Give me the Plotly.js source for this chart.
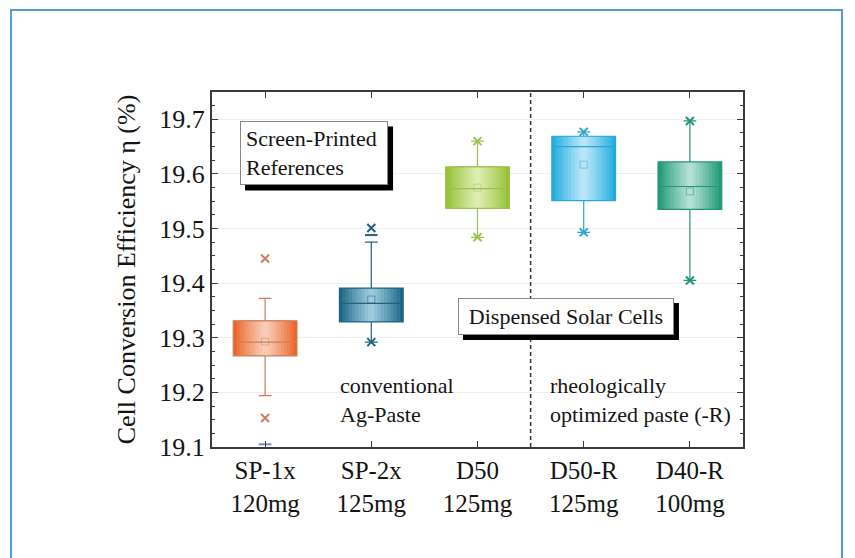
<!DOCTYPE html>
<html><head><meta charset="utf-8">
<script src="https://cdn.plot.ly/plotly-3.0.1.min.js"></script>
<style>
html,body{margin:0;padding:0;background:#fff;}
#wrap{position:relative;width:855px;height:558px;overflow:hidden;}
#frame{position:absolute;left:10px;top:9px;width:829px;height:600px;border:2px solid #4f9be0;border-bottom:none;pointer-events:none;}
#chart{position:absolute;left:0;top:0;width:855px;height:558px;}
</style></head>
<body><div id="wrap"><div id="chart"></div><div id="frame"></div></div>
<script>
// ---- data ----
const groupNames = ["SP-1x", "SP-2x", "D50", "D50-R", "D40-R"];
const pasteMass  = ["120mg", "125mg", "125mg", "125mg", "100mg"];
const q1         = [19.267, 19.329, 19.537, 19.551, 19.535];
const medianVal  = [19.292, 19.363, 19.573, 19.650, 19.577];
const q3         = [19.331, 19.391, 19.613, 19.669, 19.622];
const whiskLow   = [19.194, 19.292, 19.484, 19.493, 19.405];
const whiskHigh  = [19.372, 19.475, 19.660, 19.677, 19.697];
const meanVal    = [19.293, 19.370, 19.575, 19.617, 19.568];
const pctHigh    = [19.445, 19.501, 19.660, 19.677, 19.697];
const pctLow     = [19.153, 19.292, 19.484, 19.493, 19.405];
const extremeIdx = [0, 1];
const extremeVal = [19.105, 19.488];
const dividerPos = 2.5;
const yTicks     = [19.1, 19.2, 19.3, 19.4, 19.5, 19.6, 19.7];

// ---- styles ----
const edgeColors   = ["#ec6426", "#1c6888", "#96c236", "#22ade0", "#229a78"];
const centerColors = ["#f8cdb8", "#9ccade", "#dcedb0", "#b8e6f6", "#b2e0d2"];
const lineColors   = ["#c8805e", "#22627e", "#9fc04e", "#2aa6d0", "#23957a"];
const nLayers = 10, boxWidth = 0.6;
const serif = "Liberation Serif, Times New Roman, serif";
const ink = "#141414";

function hex2rgb(h){return [1,3,5].map(k=>parseInt(h.substr(k,2),16));}
function mix(a,b,t){const A=hex2rgb(a),B=hex2rgb(b);return "rgb("+A.map((v,i)=>Math.round(v+(B[i]-v)*t)).join(",")+")";}

const traces = [];
groupNames.forEach((g, i) => {
  for (let k = 0; k < nLayers; k++) {
    const w = boxWidth * (1 - k / nLayers);
    const c = mix(edgeColors[i], centerColors[i], Math.pow(k / (nLayers - 1), 0.9));
    traces.push({
      type: "box", x: [i], q1: [q1[i]], median: [medianVal[i]], q3: [q3[i]],
      lowerfence: [q1[i]], upperfence: [q3[i]],
      width: w, fillcolor: c, line: {width: 0, color: c},
      whiskerwidth: 0, showlegend: false, hoverinfo: "skip", boxpoints: false
    });
  }
  traces.push({
    type: "box", x: [i], q1: [q1[i]], median: [medianVal[i]], q3: [q3[i]],
    lowerfence: [whiskLow[i]], upperfence: [whiskHigh[i]],
    width: boxWidth, fillcolor: "rgba(0,0,0,0)",
    line: {width: 1.2, color: lineColors[i]},
    whiskerwidth: 0.2, showlegend: false, hoverinfo: "skip", boxpoints: false
  });
});
const idx = groupNames.map((g, i) => i);
traces.push({
  type: "scatter", mode: "markers", x: idx, y: meanVal,
  marker: {symbol: "square-open", size: 7, color: lineColors, line: {width: 1}, opacity: 0.5},
  showlegend: false, hoverinfo: "skip"
});
traces.push({
  type: "scatter", mode: "markers", x: idx.concat(idx), y: pctHigh.concat(pctLow),
  marker: {symbol: "x-thin-open", size: 8, color: lineColors.concat(lineColors),
           line: {width: 2, color: lineColors.concat(lineColors)}},
  showlegend: false, hoverinfo: "skip"
});
traces.push({
  type: "scatter", mode: "markers", x: extremeIdx, y: extremeVal,
  marker: {symbol: "line-ew-open", size: 9, color: ["#6f8fcf", lineColors[1]],
           line: {width: 2, color: ["#6f8fcf", lineColors[1]]}},
  showlegend: false, hoverinfo: "skip"
});

const axisCommon = {
  showline: true, linecolor: "#3a3a3a", linewidth: 2, mirror: "ticks",
  ticks: "inside", tickcolor: "#3a3a3a", zeroline: false
};
const annFont = {family: serif, size: 22, color: ink};

const boxes = [
  {text: "Screen-Printed<br>References", x: -0.236, y: 19.696, w: 136, h: 52, align: "left"},
  {text: "Dispensed Solar Cells", x: 1.816, y: 19.373, w: 204, h: 25, align: "center"}
];
const pad = 5, sh = 5;
const shapes = [{type: "line", xref: "x", yref: "paper", x0: dividerPos, x1: dividerPos, y0: 0, y1: 1,
                 line: {color: "#333", width: 1.5, dash: "4px,3px"}}];
const annotations = [];
boxes.forEach(b => {
  const W = b.w + 2 * pad + 2, H = b.h + 2 * pad + 2;
  shapes.push({type: "rect", xref: "x", yref: "y", xsizemode: "pixel", ysizemode: "pixel",
               xanchor: b.x, yanchor: b.y, x0: sh, x1: sh + W, y0: -sh, y1: -sh - H,
               fillcolor: "#000", line: {width: 0}, layer: "above"});
  annotations.push({x: b.x, y: b.y, xref: "x", yref: "y", xanchor: "left", yanchor: "top",
                    text: b.text, showarrow: false, align: b.align, width: b.w, height: b.h,
                    font: annFont, bgcolor: "#fff", bordercolor: "#888", borderwidth: 1, borderpad: pad});
});
annotations.push(
  {x: 0.686, y: 19.24, xref: "x", yref: "y", xanchor: "left", yanchor: "top", showarrow: false,
   align: "left", text: "conventional<br>Ag-Paste", font: annFont},
  {x: 2.664, y: 19.24, xref: "x", yref: "y", xanchor: "left", yanchor: "top", showarrow: false,
   align: "left", text: "rheologically<br>optimized paste (-R)", font: annFont}
);

const layout = {
  width: 855, height: 558,
  margin: {l: 212, r: 112, t: 92, b: 111},
  paper_bgcolor: "#fff", plot_bgcolor: "#fff",
  boxmode: "overlay", showlegend: false,
  font: {family: serif, color: ink},
  xaxis: Object.assign({}, axisCommon, {
    range: [-0.5, 4.5], tickvals: idx,
    ticktext: groupNames.map((g, i) => g + "<br>" + pasteMass[i]),
    ticklen: 6, showgrid: false, tickfont: {family: serif, size: 25, color: ink}
  }),
  yaxis: Object.assign({}, axisCommon, {
    range: [19.1, 19.75], tickvals: yTicks, ticktext: yTicks.map(v => v.toFixed(1)),
    ticklen: 6, showgrid: true, gridcolor: "#efefef", gridwidth: 1,
    minor: {dtick: 0.025, ticklen: 3, ticks: "inside", tickcolor: "#3a3a3a", showgrid: false},
    tickfont: {family: serif, size: 26, color: ink},
    title: {text: "Cell Conversion Efficiency η (%)", font: {family: serif, size: 26, color: ink}, standoff: 16}
  }),
  shapes: shapes,
  annotations: annotations
};

Plotly.newPlot("chart", traces, layout, {displayModeBar: false, staticPlot: true});
</script></body></html>
